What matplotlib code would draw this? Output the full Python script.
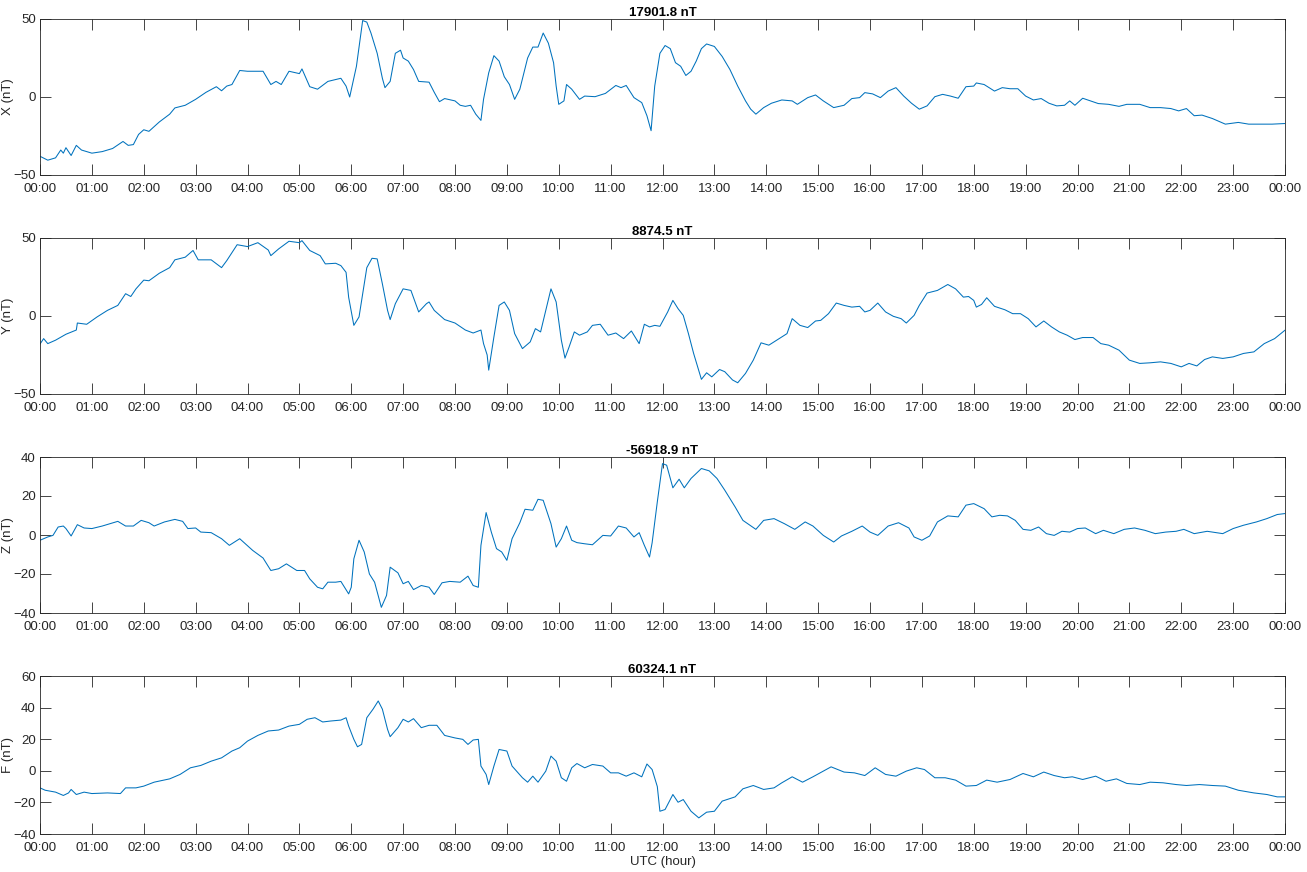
import numpy as np
import matplotlib
matplotlib.use("Agg")
import matplotlib.pyplot as plt

plt.rcParams['font.family'] = ['Liberation Sans', 'DejaVu Sans']

# baselines shown as panel titles
titles = ["17901.8 nT", "8874.5 nT", "-56918.9 nT", "60324.1 nT"]
ylabels = ["X (nT)", "Y (nT)", "Z (nT)", "F (nT)"]

# X component: hour, nT
x_t = [0.0, 0.15, 0.3, 0.4, 0.45, 0.5, 0.6, 0.7, 0.8, 1.0, 1.2, 1.4, 1.6, 1.7, 1.8, 1.9,
       2.0, 2.1, 2.3, 2.5, 2.6, 2.8, 3.0, 3.2, 3.4, 3.5, 3.6, 3.7, 3.85, 4.0, 4.3, 4.45,
       4.55, 4.65, 4.8, 5.0, 5.05, 5.2, 5.35, 5.55, 5.8, 5.9, 5.97, 6.1, 6.22, 6.3, 6.38,
       6.5, 6.6, 6.65, 6.75, 6.85, 6.95, 7.0, 7.1, 7.2, 7.3, 7.5, 7.6, 7.7, 7.8, 8.0, 8.1,
       8.2, 8.3, 8.4, 8.5, 8.55, 8.65, 8.75, 8.85, 8.95, 9.05, 9.15, 9.25, 9.4, 9.5, 9.6,
       9.7, 9.8, 9.9, 9.95, 10.0, 10.1, 10.15, 10.25, 10.4, 10.5, 10.7, 10.9, 11.1, 11.2,
       11.3, 11.45, 11.6, 11.7, 11.78, 11.85, 11.95, 12.05, 12.15, 12.25, 12.35, 12.45,
       12.55, 12.65, 12.75, 12.85, 13.0, 13.15, 13.3, 13.45, 13.6, 13.7, 13.8, 13.95, 14.1,
       14.3, 14.5, 14.6, 14.8, 14.95, 15.1, 15.3, 15.5, 15.65, 15.8, 15.9, 16.05, 16.2,
       16.35, 16.5, 16.65, 16.8, 16.95, 17.1, 17.25, 17.4, 17.55, 17.7, 17.85, 18.0, 18.05,
       18.2, 18.4, 18.55, 18.7, 18.85, 19.0, 19.15, 19.3, 19.45, 19.6, 19.75, 19.85, 19.95,
       20.1, 20.25, 20.4, 20.6, 20.8, 20.95, 21.2, 21.4, 21.6, 21.8, 21.95, 22.1, 22.25,
       22.4, 22.6, 22.85, 23.1, 23.3, 23.5, 23.75, 24.0]
x_v = [-38, -40.5, -39, -34, -36, -32.5, -37.5, -31, -34, -36, -35, -33, -28.5, -31, -30.5,
       -24, -21, -22, -16, -11, -7, -5.3, -1.5, 3, 6.6, 4, 7, 8, 17, 16.5, 16.5, 8,
       10, 8, 16.5, 15, 18, 6.6, 5, 10, 12, 7, 0, 19.7, 49, 48, 41,
       28, 12, 6, 10, 28, 30, 25, 23, 17.6, 10, 9.5, 3, -3, -1, -2.5, -5.3,
       -6, -5.3, -11, -15, -1.5, 15.5, 26.5, 23, 13, 8, -1.5, 5, 25, 32, 32,
       41, 34.5, 22, 7, -4.7, -2.5, 8, 5, -1.5, 0.6, 0.2, 2.3, 7.4, 6,
       7.4, -0.4, -3.6, -12, -21.6, 7, 28, 33, 31, 22, 19.7, 13.8,
       16.5, 23, 31, 34, 32.4, 26, 17.6, 7, -2.5, -7.8, -11, -6.8, -4,
       -1.9, -2.5, -4.7, -0.4, 1.3, -2.5, -6.8, -5.3, -1, -0.4, 2.8, 2, -0.4,
       3.8, 6, 0.6, -4, -7.8, -5.7, 0.2, 1.7, 0.6, -0.8, 6.6, 7, 9,
       8, 3.8, 6, 5.3, 5.3, 0.6, -1.9, -1, -4, -5.7, -5.3, -2.5, -5.3,
       -0.8, -2.5, -4.2, -4.7, -6, -4.7, -4.7, -6.8, -6.8, -7.4, -8.9, -7.4, -12,
       -11.6, -13.8, -17.4, -16.3, -17.4, -17.4, -17.4, -17]

# Y component
y_t = [0.0, 0.07, 0.15, 0.3, 0.5, 0.7, 0.72, 0.9, 1.1, 1.3, 1.5, 1.65, 1.75, 1.85, 2.0,
       2.1, 2.3, 2.5, 2.6, 2.8, 2.95, 3.05, 3.3, 3.5, 3.6, 3.8, 4.0, 4.2, 4.4, 4.45, 4.6,
       4.8, 5.0, 5.05, 5.2, 5.4, 5.5, 5.7, 5.8, 5.9, 5.95, 6.05, 6.15, 6.3, 6.4, 6.5, 6.6,
       6.7, 6.75, 6.85, 7.0, 7.15, 7.3, 7.45, 7.5, 7.6, 7.8, 8.0, 8.2, 8.35, 8.5, 8.55,
       8.62, 8.65, 8.75, 8.85, 8.95, 9.05, 9.15, 9.3, 9.45, 9.55, 9.65, 9.75, 9.85, 9.95,
       10.05, 10.12, 10.2, 10.3, 10.4, 10.55, 10.65, 10.8, 10.95, 11.1, 11.25, 11.4, 11.55,
       11.65, 11.75, 11.85, 11.95, 12.1, 12.2, 12.3, 12.4, 12.5, 12.6, 12.75, 12.85, 12.95,
       13.1, 13.2, 13.35, 13.45, 13.6, 13.75, 13.9, 14.05, 14.2, 14.4, 14.5, 14.65, 14.8,
       14.95, 15.05, 15.2, 15.35, 15.5, 15.65, 15.8, 15.9, 16.0, 16.15, 16.3, 16.45, 16.6,
       16.7, 16.85, 16.95, 17.1, 17.3, 17.5, 17.65, 17.8, 17.9, 18.0, 18.05, 18.15, 18.25,
       18.4, 18.6, 18.75, 18.9, 19.05, 19.2, 19.35, 19.5, 19.65, 19.8, 19.95, 20.1, 20.3,
       20.45, 20.6, 20.8, 21.0, 21.2, 21.4, 21.6, 21.8, 22.0, 22.15, 22.3, 22.45, 22.6,
       22.8, 23.0, 23.2, 23.4, 23.6, 23.8, 24.0]
y_v = [-18, -14.5, -17.7, -15.5, -11.7, -9, -4.5, -5.3, -0.6, 3.6, 6.8, 14.3, 12.5, 17.4, 23,
       22.6, 27.4, 31, 36, 37.7, 42, 36, 36, 31, 35.5, 45.7, 44.5, 47, 42.3, 38.7, 43,
       47.9, 47, 48.3, 42, 38.7, 33.4, 33.8, 32.3, 28, 12, -6, -0.6, 31, 37, 36.6, 20.6,
       3.6, -2.3, 7.9, 17.4, 16.4, 2.6, 7.9, 9, 3.6, -2.3, -4.5, -9, -10.9, -9, -17.7,
       -25, -34.7, -13.4, 6.8, 9, 3.6, -11.3, -20.9, -16.6, -8.1, -10.2, 3.6, 17.4, 9,
       -15.5, -27, -19.8, -10.2, -12.3, -10.2, -6, -5.3, -12.3, -10.9, -14.5, -9.6, -17.7,
       -5.3, -7, -6, -6.6, 2.6, 10, 4.7, 0.4, -11.3, -24, -40.6, -36.4, -39,
       -34.3, -35.7, -41, -42.8, -36.8, -28.3, -17.2, -18.7, -15.5, -11.3, -1.7, -6, -7.4,
       -3.2, -2.8, 1.5, 8.3, 6.8, 5.7, 6.2, 2.6, 3.6, 8.3, 2.6, -0.2, -1.7,
       -4.5, 0.4, 6.8, 14.7, 16.4, 20.2, 17.4, 12.1, 12.5, 10, 5.7, 7.4, 11.7,
       6.2, 4, 1.5, 1.5, -1.7, -7, -3.2, -7, -10.2, -12.3, -15.1, -13.8, -13.8,
       -17.7, -18.7, -21.9, -28.3, -30.4, -30, -29.4, -30.4, -32.6, -30.4, -32, -27.9, -26.2,
       -27.2, -26.2, -24, -23, -17.7, -14.5, -9.1]

# Z component
z_t = [0.0, 0.15, 0.25, 0.35, 0.45, 0.5, 0.6, 0.72, 0.85, 1.0, 1.2, 1.5, 1.65, 1.8, 1.95,
       2.1, 2.2, 2.4, 2.6, 2.75, 2.85, 3.0, 3.1, 3.3, 3.5, 3.65, 3.85, 4.1, 4.3, 4.45, 4.6,
       4.75, 4.95, 5.1, 5.2, 5.35, 5.45, 5.55, 5.7, 5.8, 5.95, 6.0, 6.05, 6.15, 6.25, 6.35,
       6.45, 6.58, 6.68, 6.75, 6.9, 7.0, 7.1, 7.2, 7.35, 7.5, 7.6, 7.75, 7.9, 8.1, 8.25,
       8.35, 8.45, 8.5, 8.6, 8.7, 8.8, 8.9, 9.0, 9.1, 9.25, 9.35, 9.5, 9.6, 9.7, 9.85,
       9.95, 10.05, 10.15, 10.25, 10.35, 10.5, 10.65, 10.85, 11.0, 11.15, 11.3, 11.45, 11.55,
       11.65, 11.75, 11.8, 11.9, 12.0, 12.08, 12.2, 12.32, 12.42, 12.55, 12.75, 12.9, 13.05,
       13.2, 13.4, 13.55, 13.8, 13.95, 14.15, 14.35, 14.55, 14.75, 14.9, 15.1, 15.3, 15.45,
       15.65, 15.85, 16.0, 16.15, 16.35, 16.55, 16.75, 16.85, 17.0, 17.15, 17.3, 17.5, 17.7,
       17.85, 18.0, 18.2, 18.35, 18.5, 18.65, 18.8, 18.95, 19.1, 19.25, 19.4, 19.55, 19.7,
       19.85, 20.0, 20.15, 20.35, 20.5, 20.7, 20.9, 21.1, 21.3, 21.5, 21.7, 21.9, 22.05,
       22.25, 22.5, 22.8, 23.0, 23.2, 23.45, 23.65, 23.85, 24.0]
z_v = [-2.7, -1, -0.2, 4.1, 4.6, 3.3, -0.5, 5.3, 3.6, 3.3, 4.6, 7, 4.6, 4.6, 7.5,
       6.3, 4.6, 6.7, 8, 7, 3.3, 3.6, 1.5, 1.2, -1.9, -5.3, -1.9, -7.9, -11.8, -18.2, -17.3,
       -14.8, -18.2, -18.2, -22.5, -26.8, -27.6, -24.2, -24.2, -23.8, -30.2, -26.8, -12.2, -2.7, -8.7, -20,
       -24.2, -37.1, -31, -16.5, -19.4, -25, -23.8, -28, -25.9, -26.8, -30.5, -24.5, -23.8, -24.2, -21.1,
       -25.9, -26.8, -5.3, 11.5, 1.5, -7, -8.7, -13, -1.9, 6.3, 13.2, 12.7, 18.3, 17.8, 5.8,
       -6.2, -1.9, 4.6, -2.7, -3.9, -4.5, -5, -0.2, -0.5, 4.6, 3.6, -1, 1.2,
       -5.3, -11.3, -4, 17, 36.6, 35.8, 24.2, 28.6, 24.2, 29, 34.1, 32.9, 29,
       23, 14.4, 7.5, 2.9, 7.5, 8.4, 5.8, 2.9, 6.7, 4.6, -0.2, -3.6, -0.5,
       1.9, 4.6, 1.5, -0.2, 4.6, 6.3, 3.6, -1, -2.7, -0.5, 6.7, 9.8, 9.3,
       15.3, 16.1, 13.5, 9.3, 10.1, 9.8, 7.5, 2.9, 2.4, 4.1, 0.7, -0.2, 1.9,
       1.5, 3.3, 3.6, 0.7, 2.4, 0.7, 2.9, 3.6, 2.4, 0.7, 1.5, 1.9, 2.9,
       0.7, 1.9, 0.7, 3.3, 5, 6.7, 8.4, 10.5, 11]

# F (total field)
f_t = [0.0, 0.1, 0.3, 0.45, 0.55, 0.6, 0.7, 0.85, 1.0, 1.3, 1.55, 1.65, 1.85, 2.0, 2.2,
       2.5, 2.7, 2.9, 3.1, 3.3, 3.5, 3.7, 3.85, 4.0, 4.2, 4.4, 4.6, 4.8, 5.0, 5.15, 5.3,
       5.45, 5.6, 5.8, 5.9, 5.95, 6.05, 6.12, 6.2, 6.3, 6.42, 6.52, 6.6, 6.7, 6.75, 6.9,
       7.0, 7.1, 7.2, 7.35, 7.5, 7.65, 7.8, 8.0, 8.15, 8.25, 8.35, 8.45, 8.5, 8.6, 8.65,
       8.75, 8.85, 9.0, 9.1, 9.3, 9.4, 9.5, 9.6, 9.75, 9.85, 9.95, 10.05, 10.15, 10.25,
       10.35, 10.5, 10.65, 10.85, 11.0, 11.15, 11.3, 11.45, 11.6, 11.7, 11.8, 11.9, 11.95,
       12.05, 12.2, 12.3, 12.4, 12.55, 12.7, 12.85, 13.0, 13.15, 13.4, 13.55, 13.75, 13.95,
       14.15, 14.3, 14.5, 14.7, 14.9, 15.1, 15.25, 15.5, 15.7, 15.9, 16.1, 16.3, 16.5, 16.7,
       16.9, 17.05, 17.25, 17.45, 17.65, 17.85, 18.05, 18.25, 18.45, 18.7, 18.95, 19.15,
       19.35, 19.55, 19.75, 19.9, 20.1, 20.35, 20.55, 20.75, 20.95, 21.2, 21.4, 21.65, 21.9,
       22.1, 22.35, 22.6, 22.85, 23.1, 23.4, 23.65, 23.85, 24.0]
f_v = [-10.8, -12.3, -13.5, -15.6, -14, -11.8, -15, -13.5, -14.4, -14, -14.4, -10.8, -10.8, -9.7, -7.2,
       -5.1, -2.3, 1.9, 3.4, 6.1, 8.2, 12.5, 14.6, 18.8, 22.4, 25.2, 25.8, 28.3, 29.4, 32.6, 33.6,
       30.9, 31.5, 32.1, 33.6, 28.3, 19.9, 15.2, 16.7, 33.6, 39, 44.2, 39, 26.2, 21.6, 27.3,
       32.6, 30.9, 33, 27.3, 28.8, 28.8, 22.4, 20.8, 19.9, 16.7, 19.5, 19.9, 3, -2.3, -8.7,
       3, 13.5, 12.5, 3, -4.4, -7.2, -3.4, -7.2, -0.2, 9.3, 6.1, -4.4, -6.6, 1.9,
       4.6, 1.9, 4, 3, -1.3, -1.3, -3.4, -1.3, -3.8, 4.3, 0.8, -10, -25.6,
       -24.5, -15, -19.9, -18.2, -25.6, -29.8, -26.2, -25.6, -19.2, -16.5, -11.4, -9.3, -11.8,
       -10.8, -7.6, -3.8, -7.2, -3.8, -0.2, 2.5, -0.8, -1.3, -3, 1.9, -2.3, -3.4, -0.2,
       1.9, 0.8, -4.4, -4.4, -5.9, -9.7, -9.3, -5.9, -7.2, -5.5, -1.7, -3.8,
       -0.8, -3, -4.4, -3.8, -5.5, -3.4, -6.6, -5.1, -8, -8.7, -7.2, -7.6, -8.7,
       -9.3, -8.7, -9.3, -9.7, -12.3, -14, -15, -16.5, -16.5]

series = [(x_t, x_v), (y_t, y_v), (z_t, z_v), (f_t, f_v)]
ylims = [(-50, 50), (-50, 50), (-40, 40), (-40, 60)]
yticks = [[-50, 0, 50], [-50, 0, 50], [-40, -20, 0, 20, 40], [-40, -20, 0, 20, 40, 60]]

hours = np.arange(0, 25)
hour_labels = ["%02d:00" % (h % 24) for h in hours]

fig = plt.figure(figsize=(13.07, 8.72), dpi=100)
left = 40 / 1307
width = (1285 - 40) / 1307
tops = [19, 238, 457, 676]
bottoms = [175, 394, 613, 834]

axcol = "#262626"
for i, (t, v) in enumerate(series):
    ax = fig.add_axes([left, 1 - bottoms[i] / 872, width, (bottoms[i] - tops[i]) / 872])
    ax.plot(t, v, color="#0072BD", linewidth=0.75)
    ax.set_xlim(0, 24)
    ax.set_ylim(*ylims[i])
    ax.set_xticks(hours)
    ax.set_xticklabels(hour_labels)
    ax.set_yticks(yticks[i])
    ax.tick_params(axis="both", direction="in", top=True, right=True, length=8, width=0.6,
                   labelsize=9.5, colors=axcol)
    ax.tick_params(axis="x", pad=6)
    ax.tick_params(axis="y", pad=3)
    for s in ax.spines.values():
        s.set_color(axcol)
        s.set_linewidth(0.6)
    ax.set_ylabel(ylabels[i], fontsize=9.5, color=axcol)
    ax.yaxis.set_label_coords(-0.0205, 0.5)
    ax.set_title(titles[i], fontsize=9.5, fontweight="bold", pad=2)
    if i == 3:
        ax.set_xlabel("UTC (hour)", fontsize=9.5, color=axcol, labelpad=1)

fig.savefig("out.png", dpi=100)
